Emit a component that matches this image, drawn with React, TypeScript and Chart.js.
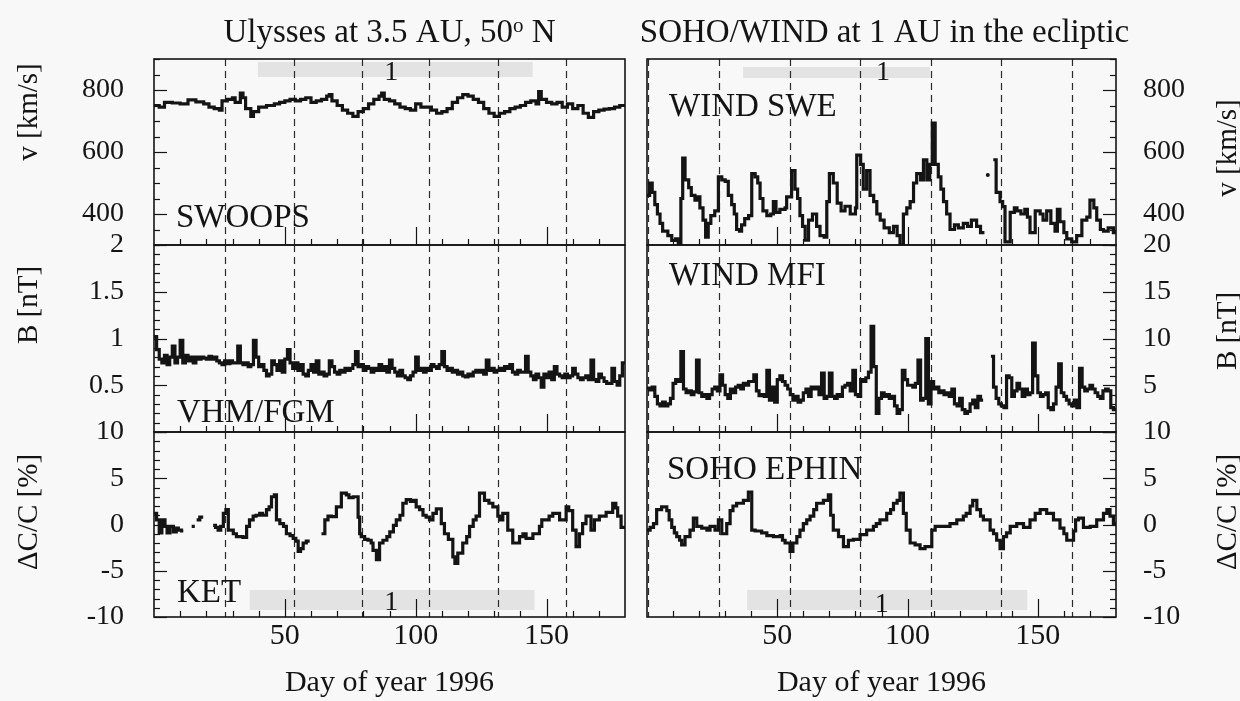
import { useEffect, useRef } from "react";
import { Chart, registerables } from "chart.js";

Chart.register(...registerables);

const W = 1240;
const H = 701;
const SERIF = "'Liberation Serif', 'Times New Roman', 'DejaVu Serif', serif";
const INK = "#141414";
const PAPER = "#f8f8f8";

// ---------- shared axis content ----------
const DAY_MIN = 0;
const DAY_MAX = 180;
const dayTickLabels = [50, 100, 150];
const dayMinorTicks = [10, 20, 30, 40, 60, 70, 80, 90, 110, 120, 130, 140, 160, 170];
const xAxisTitle = "Day of year 1996";
const columnTitles = [
  ["Ulysses at 3.5 AU, 50", "o", " N"],
  ["SOHO/WIND at 1 AU in the ecliptic", "", ""],
];

// solar rotation boundaries (dashed lines)
const ulyssesRotationDays = [27.1, 53.4, 79.4, 105.0, 131.3, 157.6];
const earthRotationDays = [0.45, 27.6, 54.7, 81.7, 109.0, 135.8, 163.1];

// y tick labels
const speedTicks = [400, 600, 800];
const fieldTicksUlysses = [0.5, 1, 1.5, 2];
const fieldTicksWind = [5, 10, 15, 20];
const cosmicTicks = [-10, -5, 0, 5, 10];

// ---------- Ulysses SWOOPS solar wind speed [km/s] ----------
const swoopsDays = [0, 2, 4, 7, 10, 13, 16, 19, 21, 23, 25, 26, 28, 30, 31, 33, 34, 35, 37, 38, 40, 43, 46, 48, 50, 52, 54, 56, 58, 60, 62, 64, 66, 67, 68, 70, 72, 74, 76, 78, 80, 82, 84, 86, 87, 88, 90, 92, 94, 96, 98, 100, 102, 104, 106, 108, 110, 112, 114, 116, 118, 120, 122, 124, 126, 128, 130, 132, 134, 136, 138, 140, 142, 144, 146, 147, 148, 150, 152, 154, 156, 158, 160, 162, 164, 166, 168, 170, 172, 174, 176, 178, 180];
const swoopsSpeed = [750, 745, 760, 758, 755, 768, 762, 755, 745, 740, 735, 765, 770, 775, 760, 790, 775, 740, 715, 730, 745, 750, 755, 760, 765, 770, 765, 770, 775, 760, 765, 770, 780, 785, 765, 750, 735, 725, 715, 730, 740, 755, 770, 780, 790, 770, 765, 755, 745, 740, 735, 755, 745, 745, 735, 725, 730, 740, 760, 775, 785, 780, 770, 760, 740, 725, 715, 725, 730, 740, 745, 750, 760, 765, 755, 795, 770, 760, 755, 760, 745, 755, 740, 750, 725, 712, 730, 735, 738, 740, 745, 750, 750];

// ---------- WIND SWE solar wind speed [km/s] ----------
const sweDays = [0, 1, 2, 3, 4, 5, 6, 8, 9.5, 11, 12, 13, 13.7, 14.6, 16, 17, 18.4, 19.5, 20.3, 21.5, 22.5, 23.5, 24.5, 26, 27.4, 28.7, 30, 31.2, 32.5, 33.5, 34.4, 35.5, 36.3, 37.5, 39, 40.2, 41.5, 42.5, 43.4, 44.5, 46, 47.5, 48.5, 49.5, 51, 53, 53.6, 55.5, 56.8, 57.8, 58.7, 59.7, 60.7, 62, 63.5, 65.1, 66.4, 68, 69, 70, 71.5, 73, 74.5, 76, 78, 80, 80.5, 82, 83, 84.3, 85.6, 87, 88.2, 89.5, 91, 93, 94.6, 96, 97.1, 98.4, 99.7, 101, 102.3, 103.5, 105, 106.1, 107.4, 108.5, 109.5, 110.6, 111.8, 112.8, 113.8, 115, 116.3, 118, 119.5, 121.4, 123, 124.5, 126.5, 128, 129.5, 129.6, 132.9, 134, 135.5, 136.5, 137.4, 139.4, 141, 142, 143.5, 145, 146, 147, 149, 150.9, 152, 153.4, 155, 156.6, 157.5, 158.5, 160, 161.1, 163, 164.9, 166.9, 168.8, 170, 171.5, 172.6, 174, 175.2, 177, 179, 180];
const sweSpeed = [460, 500, 470, 430, 400, 370, 345, 330, 315, 320, 305, 450, 580, 510, 485, 460, 445, 455, 420, 380, 325, 370, 395, 410, 520, 510, 505, 460, 430, 400, 350, 345, 365, 385, 395, 530, 520, 500, 450, 410, 395, 400, 440, 405, 415, 420, 455, 540, 480, 450, 395, 360, 316, 380, 400, 360, 330, 325, 440, 530, 500, 435, 410, 425, 400, 420, 590, 560, 480, 540, 460, 440, 400, 380, 355, 340, 360, 330, 300, 400, 420, 440, 500, 530, 510, 575, 510, 560, 693, 560, 520, 480, 440, 400, 350, 365, 355, 370, 360, 380, 360, 340, 340, null, 575, 470, 440, 424, 310, 405, 420, 410, 400, 415, 390, 340, 410, 400, 380, 410, 370, 345, 415, 375, 340, 320, 310, 330, 380, 390, 445, 420, 380, 350, 345, 355, 340, 340];
const sweIsolatedDay = [130.8];
const sweIsolatedSpeed = [526];

// ---------- Ulysses VHM/FGM field [nT], daily from day 0 ----------
const fgmField = [
  1.02, 0.88, 0.78, 0.74, 0.82, 0.72, 0.8, 0.92, 0.74, 0.8,
  0.98, 0.74, 0.82, 0.76, 0.8, 0.74, 0.8, 0.78, 0.8, 0.79,
  0.78, 0.81, 0.78, 0.8, 0.76, 0.74, 0.72, 0.76, 0.73, 0.76,
  0.74, 0.74, 0.92, 0.74, 0.72, 0.74, 0.7, 0.72, 0.98, 0.8,
  0.7, 0.72, 0.66, 0.6, 0.62, 0.76, 0.72, 0.66, 0.76, 0.64,
  0.78, 0.88, 0.74, 0.68, 0.74, 0.66, 0.72, 0.62, 0.6, 0.66,
  0.72, 0.64, 0.76, 0.62, 0.64, 0.6, 0.62, 0.76, 0.7, 0.64,
  0.62, 0.66, 0.64, 0.68, 0.66, 0.68, 0.72, 0.86, 0.7, 0.72,
  0.66, 0.7, 0.68, 0.64, 0.68, 0.66, 0.72, 0.66, 0.7, 0.64,
  0.77, 0.68, 0.64, 0.6, 0.66, 0.6, 0.58, 0.56, 0.6, 0.64,
  0.8, 0.66, 0.68, 0.64, 0.68, 0.66, 0.72, 0.7, 0.68, 0.72,
  0.86, 0.7, 0.66, 0.68, 0.64, 0.66, 0.62, 0.64, 0.6, 0.59,
  0.62, 0.6, 0.64, 0.66, 0.64, 0.66, 0.62, 0.77, 0.66, 0.68,
  0.64, 0.66, 0.68, 0.66, 0.7, 0.68, 0.72, 0.64, 0.62, 0.66,
  0.64, 0.64, 0.81, 0.64, 0.6, 0.56, 0.62, 0.58, 0.48, 0.62,
  0.58, 0.64, 0.56, 0.7, 0.62, 0.6, 0.58, 0.62, 0.58, 0.6,
  0.68, 0.62, 0.58, 0.56, 0.58, 0.6, 0.56, 0.77, 0.56, 0.54,
  0.62, 0.58, 0.54, 0.52, 0.52, 0.68, 0.54, 0.5, 0.6, 0.74,
  0.74,
];

// ---------- WIND MFI field [nT], daily from day 0 ----------
const mfiField = [
  4.7, 4.5, 4.8, 3.8, 3.0, 2.8, 3.2, 2.8, 3.0, 3.6,
  5.2, 5.6, 5.4, 8.6, 4.6, 4.2, 4.4, 4.0, 4.3, 7.7,
  4.2, 3.8, 4.0, 3.6, 4.0, 4.6, 4.8, 4.4, 6.1, 5.0,
  4.0, 3.6, 4.6, 4.2, 4.8, 5.0, 4.6, 5.2, 5.0, 5.4,
  5.4, 6.1, 4.4, 3.9, 4.0, 3.8, 6.6, 3.4, 4.8, 3.2,
  5.6, 6.0, 5.4, 5.0, 4.6, 4.0, 3.4, 3.8, 3.2, 3.4,
  4.2, 4.6, 3.8, 4.8, 4.6, 4.8, 4.0, 6.3, 3.6, 3.8,
  6.3, 3.8, 3.6, 4.0, 3.8, 4.8, 5.0, 5.2, 4.4, 6.6,
  4.0, 3.8, 5.6, 5.4, 5.8, 6.4, 11.3, 7.0, 2.0, 3.6,
  4.2, 3.8, 4.0, 3.6, 3.8, 2.8, 2.0, 2.4, 6.6, 5.6,
  5.0, 5.0, 4.8, 5.2, 7.7, 3.4, 3.6, 10.0, 3.0, 5.4,
  4.6, 4.8, 4.2, 4.4, 4.0, 4.2, 3.8, 4.6, 3.0, 2.8,
  3.6, 2.4, 2.0, 2.2, 3.0, 3.4, 2.6, 3.8, 3.4, 3.4,
  null, null, 8.1, 4.8, 3.6, 3.0, 2.8, 2.6, 6.0, 5.8,
  3.8, 4.4, 5.2, 4.6, 3.8, 4.6, 4.0, 4.2, 9.5, 6.0,
  4.2, 3.8, 4.0, 4.2, 2.6, 2.4, 3.0, 4.8, 7.3, 4.2,
  3.8, 3.4, 3.0, 2.8, 3.4, 2.6, 6.8, 4.8, 4.4, 4.6,
  5.0, 4.6, 4.2, 3.8, 3.6, 4.4, 4.6, 4.4, 2.6, 2.4,
  2.4,
];

// ---------- Ulysses KET cosmic ray change [%] ----------
const ketDays = [0, 1, 2, 3, 4.2, 5, 6.1, 7.4, 8.5, 9.3, 10.5, 11.2, 11.3, 14.4, 15.6, 15.7, 16.3, 17.5, 18.8, 18.9, 22.6, 23.5, 24.5, 25.5, 26.5, 27.5, 28.4, 30.3, 31.5, 32.8, 34, 35.4, 36.5, 37.9, 39, 40.4, 41.5, 43, 44, 44.9, 46, 46.8, 48.1, 49.5, 50.6, 52, 53.2, 54.2, 55.1, 56, 57, 58.2, 59.5, 59.6, 64, 65.3, 66.5, 67.8, 69.7, 71.6, 73.5, 74.5, 76.1, 78, 78.6, 79.2, 80.5, 81.8, 83, 83.7, 85, 86.2, 87.5, 89, 90.1, 91.5, 92.6, 94, 95.1, 96.4, 98, 99, 100.2, 101.5, 102.8, 104, 105.3, 106.6, 107.9, 109.8, 111, 112.5, 114.2, 115, 116.1, 118, 119.5, 120.6, 122, 123.1, 124.4, 126.3, 128, 129.5, 131.4, 132.3, 133.3, 135.2, 137.1, 139.7, 141, 142.2, 144.8, 147.3, 148.2, 149.2, 151, 152.4, 155, 157.5, 158.5, 160, 161.3, 162.6, 163.8, 165.1, 167, 168.3, 170.2, 172.8, 175.3, 176.5, 177.2, 178.5, 179.4, 180];
const ketChange = [1.2, 0.5, -0.9, 0.5, -0.2, -0.9, -0.2, -0.8, -0.4, -0.6, -0.7, -0.7, null, -0.2, -0.2, null, 0.5, 0.8, 0.8, null, -0.1, -0.3, -0.6, -0.2, 1.2, 1.6, -0.6, -1.0, -1.3, -1.3, -1.4, -0.2, 0.5, 0.9, 1.0, 1.2, 1.0, 1.6, 1.9, 3.0, 3.2, 0.5, 0.1, -0.2, -1.0, -1.2, -1.5, -1.8, -2.9, -2.6, -2.0, -1.8, -1.8, null, -1.0, 0.5, 0.9, 0.85, 1.9, 3.4, 3.2, 2.9, 3.0, 0.8, -1.0, -1.3, -1.6, -1.7, -2.0, -2.8, -3.8, -2.0, -1.7, -1.3, -0.8, -0.1, 0.5, 1.0, 2.3, 2.7, 2.5, 2.6, 1.9, 1.6, 1.0, 0.8, 0.5, 1.2, 1.7, 0.1, -1.0, -1.6, -3.5, -4.2, -3.1, -2.0, -1.3, -0.2, 0.5, 0.9, 3.4, 2.6, 2.3, 1.9, 0.9, 0.5, 1.2, -0.6, -2.0, -1.3, -1.0, -1.5, -1.0, -0.2, 0.5, 0.5, 0.9, 1.2, 0.5, 1.9, 1.5, -0.6, -2.4, -1.0, 0.1, 0.9, -0.6, 0.5, 0.9, 1.3, 2.3, 1.8, 0.9, -0.3, -0.3, -0.3];

// ---------- SOHO EPHIN cosmic ray change [%] ----------
const ephinDays = [0, 1.2, 2.5, 3.7, 5.6, 7.6, 8.5, 9.5, 10.5, 11.4, 12.5, 13.3, 14.6, 16.5, 17.8, 19.1, 21, 23, 24.2, 26.1, 27.4, 28.7, 30.6, 31.9, 33, 34.4, 37, 38.9, 40.2, 41.5, 44, 46, 48.5, 51.1, 52, 53, 54.9, 56, 57.5, 58.7, 60, 61.3, 62.6, 64, 65.1, 67.7, 69.6, 70.5, 71.5, 73.5, 75.4, 77.3, 79.2, 81.8, 84.3, 86.9, 88, 89.4, 92, 93.5, 94.6, 96, 97.1, 98.4, 99.5, 101, 102.9, 104.8, 106.7, 109.3, 110.6, 113.8, 116.3, 118.9, 121.4, 122.5, 124, 125, 126.6, 128, 129.1, 131.7, 133, 134.2, 135.5, 136.8, 138, 139.4, 141.9, 144.5, 147, 149, 150.9, 153.4, 156, 158.5, 160, 161.1, 163.7, 164.5, 165.6, 167.5, 170.1, 172.6, 175.2, 176.5, 177.7, 179, 180];
const ephinChange = [-0.6, -0.3, 0.1, 1.6, 1.9, 1.5, 0.5, -0.3, -0.9, -1.3, -1.7, -2.2, -1.3, -0.6, 0.7, -0.2, -0.4, -0.6, -0.2, -0.6, 0.5, -1.0, 0.1, 1.5, 2.0, 2.3, 2.6, 3.5, -0.6, -0.7, -0.9, -1.2, -1.3, -1.2, -1.7, -2.0, -2.9, -2.0, -1.3, -0.6, 0.1, 0.5, 0.9, 1.6, 2.3, 2.6, 3.2, 1.0, -0.6, -1.3, -2.4, -1.7, -1.6, -1.1, -0.6, -0.2, 0.1, 0.5, 1.2, 1.6, 2.3, 2.6, 3.4, 1.2, -0.6, -2.0, -2.2, -2.6, -2.4, -0.6, -0.2, -0.2, 0.1, 0.5, 0.9, 1.2, 2.0, 2.6, 1.6, 0.9, 0.5, -0.6, -1.0, -1.7, -2.6, -1.3, -0.9, -0.2, 0.1, -0.3, 0.5, 1.2, 1.6, 1.2, 0.5, -0.4, -1.0, -1.7, -0.7, 0.5, 0.7, -0.3, -0.2, 0.5, 1.2, 1.6, 0.9, 0.1, 0.1];

// ---------- layout ----------
const COLS = [
  { left: 154, right: 625 },
  { left: 647, right: 1116 },
];
const ROWS = [
  { top: 59, bottom: 245 },
  { top: 245, bottom: 432 },
  { top: 432, bottom: 617 },
];

type Series = { x: number[]; y: (number | null)[]; dots?: boolean };
type Mark = { edge: "top" | "bottom"; fromDay: number; toDay: number; y0: number; y1: number; markDay: number; markBase: number };
type Panel = {
  key: string;
  col: 0 | 1;
  row: 0 | 1 | 2;
  min: number;
  max: number;
  ticks: number[];
  major: number;
  minor: number;
  series: Series[];
  name: string;
  nameDx: number;
  nameEdge: "top" | "bottom";
  nameDy: number;
  unit: string;
  unitX: number;
  unitCy: number;
  rotations: number[];
  mark?: Mark;
};

const dailyDays = (n: number) => Array.from({ length: n }, (_, i) => i);

const panels: Panel[] = [
  {
    key: "swoops", col: 0, row: 0, min: 300, max: 900, ticks: speedTicks, major: 200, minor: 50,
    series: [{ x: swoopsDays, y: swoopsSpeed }],
    name: "SWOOPS", nameDx: 22, nameEdge: "bottom", nameDy: 18,
    unit: "v [km/s]", unitX: 29, unitCy: 112, rotations: ulyssesRotationDays,
    mark: { edge: "top", fromDay: 39.7, toDay: 144.7, y0: 3, y1: 18, markDay: 90.7, markBase: 21 },
  },
  {
    key: "swe", col: 1, row: 0, min: 300, max: 900, ticks: speedTicks, major: 200, minor: 50,
    series: [{ x: sweDays, y: sweSpeed }, { x: sweIsolatedDay, y: sweIsolatedSpeed, dots: true }],
    name: "WIND SWE", nameDx: 22, nameEdge: "top", nameDy: 57,
    unit: "v [km/s]", unitX: 1228, unitCy: 148, rotations: earthRotationDays,
    mark: { edge: "top", fromDay: 36.9, toDay: 108.6, y0: 8, y1: 19, markDay: 90.6, markBase: 21 },
  },
  {
    key: "fgm", col: 0, row: 1, min: 0, max: 2, ticks: fieldTicksUlysses, major: 0.5, minor: 0.1,
    series: [{ x: dailyDays(fgmField.length), y: fgmField }],
    name: "VHM/FGM", nameDx: 23, nameEdge: "bottom", nameDy: 10,
    unit: "B [nT]", unitX: 29, unitCy: 305, rotations: ulyssesRotationDays,
  },
  {
    key: "mfi", col: 1, row: 1, min: 0, max: 20, ticks: fieldTicksWind, major: 5, minor: 1,
    series: [{ x: dailyDays(mfiField.length), y: mfiField }],
    name: "WIND MFI", nameDx: 22, nameEdge: "top", nameDy: 40,
    unit: "B [nT]", unitX: 1228, unitCy: 331, rotations: earthRotationDays,
  },
  {
    key: "ket", col: 0, row: 2, min: -10, max: 10, ticks: cosmicTicks, major: 5, minor: 1,
    series: [{ x: ketDays, y: ketChange }],
    name: "KET", nameDx: 23, nameEdge: "bottom", nameDy: 15,
    unit: "\u0394C/C [%]", unitX: 29, unitCy: 512, rotations: ulyssesRotationDays,
    mark: { edge: "bottom", fromDay: 36.6, toDay: 145.4, y0: 27, y1: 7, markDay: 90.7, markBase: 7 },
  },
  {
    key: "ephin", col: 1, row: 2, min: -10, max: 10, ticks: cosmicTicks, major: 5, minor: 1,
    series: [{ x: ephinDays, y: ephinChange }],
    name: "SOHO EPHIN", nameDx: 20, nameEdge: "top", nameDy: 47,
    unit: "\u0394C/C [%]", unitX: 1228, unitCy: 512, rotations: earthRotationDays,
    mark: { edge: "bottom", fromDay: 38.4, toDay: 145.9, y0: 27, y1: 7, markDay: 90.1, markBase: 5 },
  },
];

function line(ctx: CanvasRenderingContext2D, x1: number, y1: number, x2: number, y2: number) {
  ctx.beginPath();
  ctx.moveTo(x1, y1);
  ctx.lineTo(x2, y2);
  ctx.stroke();
}

function decor(p: Panel) {
  return {
    id: "decor_" + p.key,
    beforeDatasetsDraw(chart: any) {
      const { ctx, chartArea: a } = chart;
      const xs = chart.scales.x;
      ctx.save();
      if (p.mark) {
        const m = p.mark;
        const x0 = xs.getPixelForValue(m.fromDay);
        const x1 = xs.getPixelForValue(m.toDay);
        const ya = m.edge === "top" ? a.top + m.y0 : a.bottom - m.y0;
        const yb = m.edge === "top" ? a.top + m.y1 : a.bottom - m.y1;
        ctx.fillStyle = "rgba(120,120,120,0.16)";
        ctx.fillRect(x0, Math.min(ya, yb), x1 - x0, Math.abs(yb - ya));
      }
      ctx.strokeStyle = "#2b2b2b";
      ctx.lineWidth = 1.2;
      ctx.setLineDash([7, 5]);
      for (const d of p.rotations) {
        const x = Math.round(xs.getPixelForValue(d)) + 0.5;
        line(ctx, x, a.top, x, a.bottom);
      }
      ctx.restore();
    },
    afterDatasetsDraw(chart: any) {
      const { ctx, chartArea: a } = chart;
      const xs = chart.scales.x;
      const ys = chart.scales.y;
      ctx.save();
      ctx.strokeStyle = INK;
      ctx.fillStyle = INK;
      // frame
      ctx.lineWidth = 1.6;
      ctx.strokeRect(a.left, a.top, a.right - a.left, a.bottom - a.top);
      // y tick marks (inward)
      ctx.lineWidth = 1.2;
      const n = Math.round((p.max - p.min) / p.minor);
      for (let i = 0; i <= n; i++) {
        const v = p.min + i * p.minor;
        const r = v / p.major;
        const len = Math.abs(r - Math.round(r)) < 1e-6 ? 13 : 6;
        const y = Math.round(ys.getPixelForValue(v)) + 0.5;
        if (p.col === 0) line(ctx, a.left, y, a.left + len, y);
        else line(ctx, a.right - len, y, a.right, y);
      }
      // x tick marks along bottom (inward)
      for (const d of dayTickLabels) {
        const x = Math.round(xs.getPixelForValue(d)) + 0.5;
        line(ctx, x, a.bottom, x, a.bottom - 18);
      }
      for (const d of dayMinorTicks) {
        const x = Math.round(xs.getPixelForValue(d)) + 0.5;
        line(ctx, x, a.bottom, x, a.bottom - 6);
      }
      // "1" marker
      if (p.mark) {
        const m = p.mark;
        ctx.font = `28px ${SERIF}`;
        ctx.textAlign = "center";
        ctx.textBaseline = "alphabetic";
        const by = m.edge === "top" ? a.top + m.markBase : a.bottom - m.markBase;
        ctx.fillText("1", xs.getPixelForValue(m.markDay), by);
      }
      // instrument name
      ctx.font = `33px ${SERIF}`;
      ctx.textAlign = "left";
      ctx.textBaseline = "alphabetic";
      const ny = p.nameEdge === "top" ? a.top + p.nameDy : a.bottom - p.nameDy;
      ctx.fillText(p.name, a.left + p.nameDx, ny);
      // axis unit title (rotated)
      ctx.save();
      ctx.translate(p.unitX, p.unitCy);
      ctx.rotate(-Math.PI / 2);
      ctx.font = `29px ${SERIF}`;
      ctx.textAlign = "center";
      ctx.textBaseline = "middle";
      ctx.fillText(p.unit, 0, 0);
      ctx.restore();
      // column title
      if (p.row === 0) {
        const [main, sup, tail] = columnTitles[p.col];
        const cx = (a.left + a.right) / 2 + (p.col === 1 ? 3 : 0);
        ctx.textAlign = "left";
        ctx.font = `33px ${SERIF}`;
        const wMain = ctx.measureText(main).width;
        const wTail = ctx.measureText(tail).width;
        ctx.font = `21px ${SERIF}`;
        const wSup = sup ? ctx.measureText(sup).width : 0;
        let x = cx - (wMain + wSup + wTail) / 2;
        ctx.font = `33px ${SERIF}`;
        ctx.fillText(main, x, 42);
        x += wMain;
        if (sup) {
          ctx.font = `21px ${SERIF}`;
          ctx.fillText(sup, x, 32);
          x += wSup;
        }
        ctx.font = `33px ${SERIF}`;
        ctx.fillText(tail, x, 42);
      }
      ctx.restore();
    },
  };
}

function buildConfig(p: Panel): any {
  const isBottom = p.row === 2;
  const colBox = COLS[p.col];
  const rowBox = ROWS[p.row];
  const yWidth = p.col === 0 ? colBox.left : W - colBox.right;
  const xHeight = H - rowBox.bottom;
  const datasets = p.series.map((s) => ({
    data: s.x.map((x, i) => ({ x, y: s.y[i] })),
    borderColor: INK,
    backgroundColor: INK,
    borderWidth: s.dots ? 0 : 3.2,
    pointRadius: s.dots ? 2 : 0,
    showLine: !s.dots,
    stepped: true,
    spanGaps: false,
    fill: false,
    borderJoinStyle: "miter",
  }));
  return {
    type: "line",
    data: { datasets },
    plugins: [decor(p)],
    options: {
      responsive: false,
      maintainAspectRatio: false,
      animation: false,
      devicePixelRatio: 1,
      events: [],
      layout: {
        padding: {
          left: p.col === 0 ? 0 : colBox.left,
          right: p.col === 0 ? W - colBox.right : 0,
          top: rowBox.top,
          bottom: isBottom ? 0 : H - rowBox.bottom,
        },
      },
      plugins: {
        legend: { display: false },
        tooltip: { enabled: false },
        title: { display: false },
      },
      scales: {
        x: {
          type: "linear",
          position: "bottom",
          min: DAY_MIN,
          max: DAY_MAX,
          display: isBottom,
          afterBuildTicks: (s: any) => {
            s.ticks = dayTickLabels.map((v) => ({ value: v }));
          },
          afterFit: (s: any) => {
            if (isBottom) s.height = xHeight;
          },
          grid: { display: false, drawTicks: false },
          border: { display: false },
          ticks: {
            autoSkip: false,
            maxRotation: 0,
            padding: 1,
            color: INK,
            font: { family: SERIF, size: 30 },
            callback: (v: any) => String(v),
          },
          title: {
            display: true,
            text: xAxisTitle,
            color: INK,
            font: { family: SERIF, size: 30 },
            padding: { top: 0, bottom: 0 },
          },
        },
        y: {
          type: "linear",
          position: p.col === 0 ? "left" : "right",
          min: p.min,
          max: p.max,
          afterBuildTicks: (s: any) => {
            s.ticks = p.ticks.map((v) => ({ value: v }));
          },
          afterFit: (s: any) => {
            s.width = yWidth;
          },
          grid: { display: false, drawTicks: false },
          border: { display: false },
          ticks: {
            autoSkip: false,
            padding: p.col === 0 ? 30 : 27,
            color: INK,
            font: { family: SERIF, size: 28 },
            callback: (v: any) => String(v),
          },
        },
      },
    },
  };
}

export default function App() {
  const refs = useRef<(HTMLCanvasElement | null)[]>([]);
  useEffect(() => {
    const charts = panels.map((p, i) => new Chart(refs.current[i] as HTMLCanvasElement, buildConfig(p)));
    return () => charts.forEach((c) => c.destroy());
  }, []);
  return (
    <div style={{ position: "absolute", left: 0, top: 0, width: W, height: H, background: PAPER, overflow: "hidden" }}>
      {panels.map((p, i) => (
        <canvas
          key={p.key}
          ref={(el) => {
            refs.current[i] = el;
          }}
          width={W}
          height={H}
          style={{ position: "absolute", left: 0, top: 0 }}
        />
      ))}
    </div>
  );
}
